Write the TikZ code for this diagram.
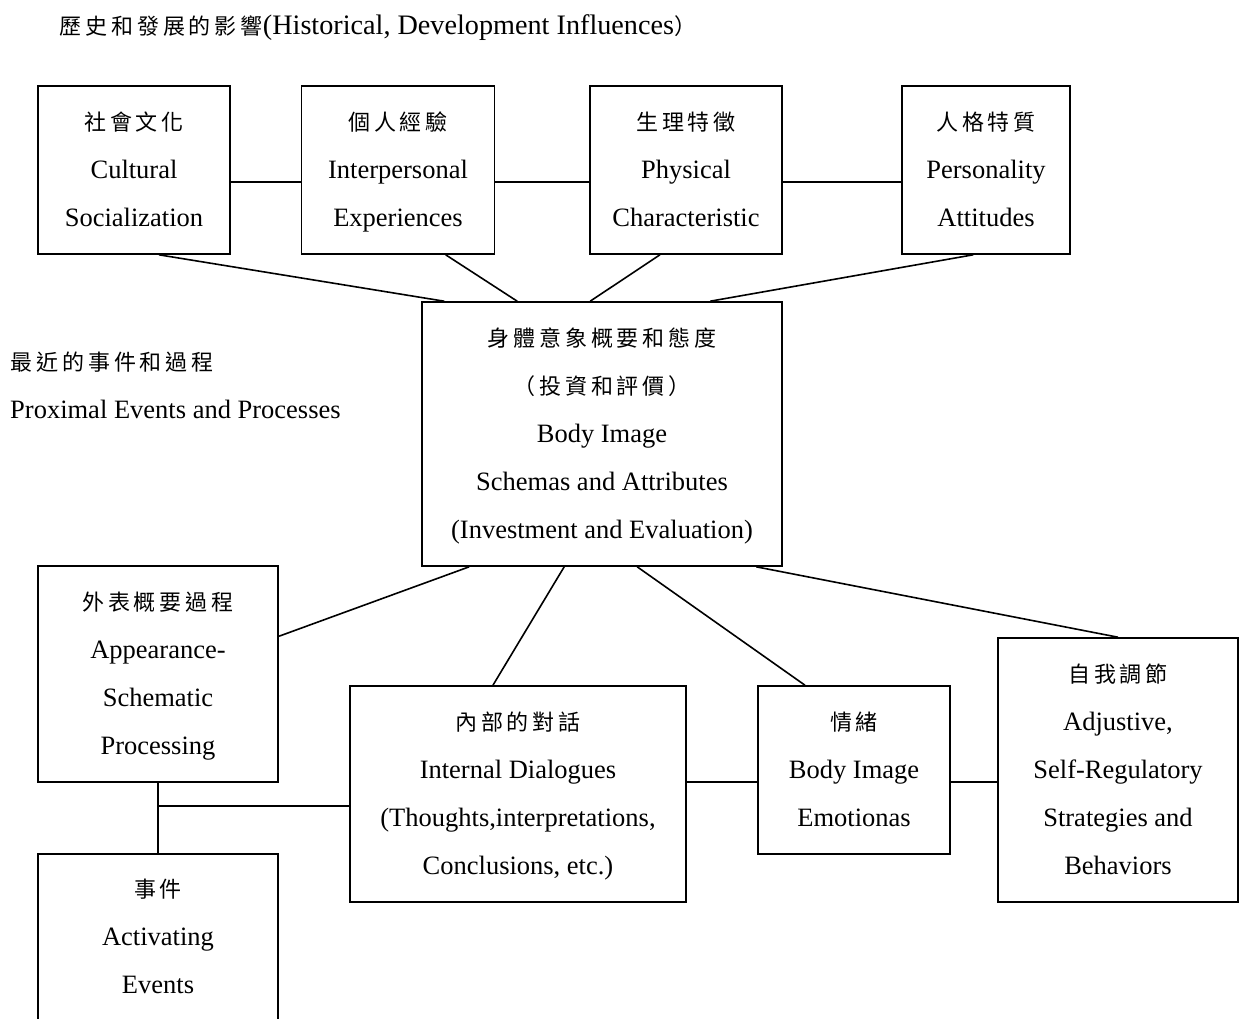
\documentclass[tikz,border=0pt]{standalone}
\usepackage{fontspec}
\setmainfont{Liberation Serif}
\newfontfamily\cjk{Noto Sans CJK TC}[LetterSpace=18]
\newfontfamily\cjkt{Noto Sans CJK TC}
\usetikzlibrary{calc}
\tikzset{
  box/.style={draw, line width=1.6pt, inner sep=0pt, align=center, font=\fontsize{26.5}{48}\selectfont,
    execute at end node={\rule[-6pt]{0pt}{0pt}}},
  conn/.style={line width=1.6pt},
  lbl/.style={anchor=west, inner sep=0pt, align=left, font=\fontsize{26.5}{48}\selectfont},
}
\newcommand{\zh}[1]{{\cjk\fontsize{22}{48}\selectfont #1}}
\newcommand{\zhf}[1]{{\cjk\fontsize{22}{48}\selectfont\rule{0pt}{22pt}#1}}
\newcommand{\zht}[1]{{\cjkt\fontsize{22}{48}\selectfont #1}}
\begin{document}
\begin{tikzpicture}[x=1pt,y=-1pt]
\useasboundingbox (0,0) rectangle (1244,1018);
\fill[white] (0,0) rectangle (1244,1018);

\node[lbl] (title) at (59,28) {\zh{歷史和發展的影響}{\fontsize{28.2}{48}\selectfont(Historical, Development Influences}\zht{）}};
\node[lbl] (prox) at (10,385) {\zh{最近的事件和過程}\\Proximal Events and Processes};

% top row
\node[box, minimum width=192.5pt, minimum height=168pt] (cs) at (134,170) {\zhf{社會文化}\\Cultural\\Socialization};
\node[box, minimum width=193pt, minimum height=168pt] (ip) at (398,170) {\zhf{個人經驗}\\Interpersonal\\Experiences};
\node[box, minimum width=192.5pt, minimum height=168pt] (pc) at (686,170) {\zhf{生理特徵}\\Physical\\Characteristic};
\node[box, minimum width=168pt, minimum height=168pt] (pa) at (986,170) {\zhf{人格特質}\\Personality\\Attitudes};

% center
\node[box, minimum width=360pt, minimum height=264pt] (body) at (602,434) {\zhf{身體意象概要和態度}\\\zh{（投資和評價）}\\Body Image\\Schemas and Attributes\\(Investment and Evaluation)};

% lower
\node[box, minimum width=240.5pt, minimum height=216pt] (aps) at (158,674) {\zhf{外表概要過程}\\Appearance-\\Schematic\\Processing};
\node[box, minimum width=336.5pt, minimum height=216pt] (inner) at (518,794) {\zhf{內部的對話}\\Internal Dialogues\\(Thoughts,interpretations,\\Conclusions, etc.)};
\node[box, minimum width=192.5pt, minimum height=168pt] (emo) at (854,770) {\zhf{情緒}\\Body Image\\Emotionas};
\node[box, minimum width=240.5pt, minimum height=264pt] (self) at (1118,770) {\zhf{自我調節}\\Adjustive,\\Self-Regulatory\\Strategies and\\Behaviors};
\node[box, minimum width=240.5pt, minimum height=166pt] (ev) at (158,937) {\zhf{事件}\\Activating\\Events};

% top horizontal connectors
\draw[conn] ($(cs.east)+(0,12)$) -- ($(ip.west)+(0,12)$);
\draw[conn] ($(ip.east)+(0,12)$) -- ($(pc.west)+(0,12)$);
\draw[conn] ($(pc.east)+(0,12)$) -- ($(pa.west)+(0,12)$);

% top to center
\draw[conn] ($(cs.south west)+(122,0)$) -- ($(body.north west)+(23,0)$);
\draw[conn] ($(ip.south west)+(145,0)$) -- ($(body.north west)+(96,0)$);
\draw[conn] ($(pc.south west)+(71,0)$) -- ($(body.north west)+(169,0)$);
\draw[conn] ($(pa.south west)+(72,0)$) -- ($(body.north west)+(289,0)$);

% center to lower
\draw[conn] ($(body.south west)+(48,0)$) -- ($(aps.north east)+(0,71)$);
\draw[conn] ($(body.south west)+(143,0)$) -- ($(inner.north west)+(144,0)$);
\draw[conn] ($(body.south west)+(216,0)$) -- ($(emo.north west)+(48,0)$);
\draw[conn] ($(body.south west)+(335,0)$) -- (self.north);

% lower horizontals
\draw[conn] ($(inner.east)+(0,-12)$) -- ($(emo.west)+(0,12)$);
\draw[conn] ($(emo.east)+(0,12)$) -- ($(self.west)+(0,12)$);
\draw[conn] (aps.south) -- (ev.north);
\coordinate (j) at ($(aps.south)!1/3!(ev.north)$);
\draw[conn] (j) -- (j -| inner.west);
\end{tikzpicture}
\end{document}
